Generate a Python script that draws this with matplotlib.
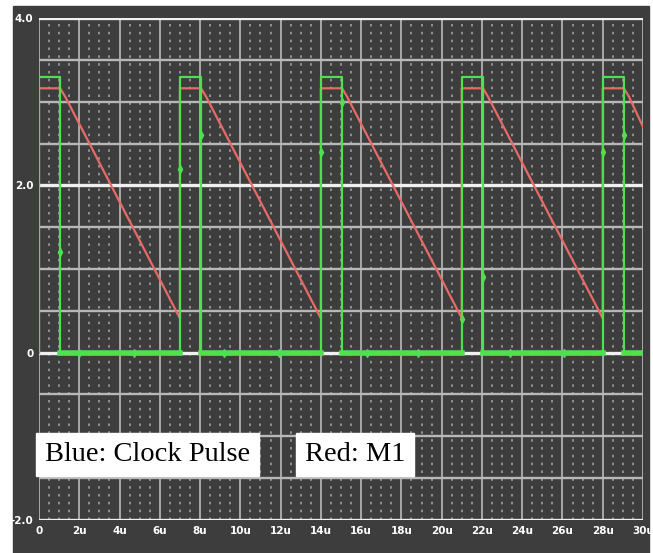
import numpy as np
import matplotlib
matplotlib.use("Agg")
import matplotlib.pyplot as plt
from matplotlib.patches import Rectangle

# --- data (time in us, volts) ---
clock_t = [0, 0, 1.05, 1.05, 7.0, 7.0, 8.05, 8.05, 14.0, 14.0, 15.05, 15.05,
           21.0, 21.0, 22.05, 22.05, 28.0, 28.0, 29.05, 29.05, 30.0]
clock_v = [0, 3.3, 3.3, 0, 0, 3.3, 3.3, 0, 0, 3.3, 3.3, 0,
           0, 3.3, 3.3, 0, 0, 3.3, 3.3, 0, 0]

m1_t = [0, 0, 1.05, 1.3, 7.0, 7.0, 8.05, 8.3, 14.0, 14.0, 15.05, 15.3,
        21.0, 21.0, 22.05, 22.3, 28.0, 28.0, 29.05, 29.3, 30.0]
m1_v = [0, 3.16, 3.16, 3.06, 0.41, 3.16, 3.16, 3.06, 0.41, 3.16, 3.16, 3.06,
        0.41, 3.16, 3.16, 3.06, 0.41, 3.16, 3.16, 3.06, 2.7]

# sample markers visible on the clock trace
mark_t = [1.05, 2.0, 4.7, 7.0, 8.05, 9.2, 11.9, 14.0, 15.05, 16.3, 18.8,
          21.0, 22.05, 23.4, 26.1, 28.0, 29.05]
mark_v = [1.2, 0, 0, 2.2, 2.6, 0, 0, 2.4, 3.0, 0, 0,
          0.4, 0.9, 0, 0, 2.4, 2.6]

yticks = [4.0, 2.0, 0.0, -2.0]
ytick_labels = ["4.0", "2.0", "0", "-2.0"]
xticks = list(range(0, 31, 2))
xtick_labels = ["0"] + [f"{t}u" for t in xticks[1:]]

bg = "#3d3d3d"
green = "#4fe04f"
red = "#e86a66"

fig = plt.figure(figsize=(6.53, 5.53), dpi=100)
fig.patch.set_facecolor("white")
fig.patches.append(Rectangle((13 / 653, 0), 636 / 653, 1 - 6 / 553,
                             transform=fig.transFigure, color=bg, zorder=-5))

ax = fig.add_axes([39 / 653, 1 - 520 / 553, 604 / 653, 502 / 553])
ax.set_facecolor(bg)
ax.set_xlim(0, 30)
ax.set_ylim(-2, 4)
for s in ax.spines.values():
    s.set_visible(False)

# grid: minor dotted verticals, major lines
for x in np.arange(0, 30.01, 0.5):
    if abs(x / 2 - round(x / 2)) > 1e-6:
        ax.axvline(x, color="#a0a0a0", lw=1.2, ls=(0, (1.5, 3.2)), zorder=1)
for x in np.arange(0, 30.01, 2):
    ax.axvline(x, color="#a8a8a8", lw=1.4, zorder=2)
for y in np.arange(-2, 4.01, 0.5):
    bright = y in (-2.0, 0.0, 2.0, 4.0)
    ax.axhline(y, color="#f0f0f0" if bright else "#b8b8b8",
               lw=2.4 if bright else 1.7, zorder=2)

ax.plot(m1_t, m1_v, color=red, lw=1.6, zorder=4)
cv = np.array(clock_v, dtype=float)
ax.plot(clock_t, clock_v, color=green, lw=1.6, zorder=5)
ax.plot(clock_t, np.where(cv == 0, cv, np.nan), color=green, lw=4, zorder=5)
ax.plot(mark_t, mark_v, ls="none", marker="d", ms=4, color=green, zorder=6)

ax.set_xticks(xticks)
ax.set_xticklabels(xtick_labels)
ax.set_yticks(yticks)
ax.set_yticklabels(ytick_labels)
ax.tick_params(length=0, colors="white", labelsize=7.5, pad=4)
for lab in ax.get_xticklabels() + ax.get_yticklabels():
    lab.set_fontweight("bold")

box = dict(facecolor="white", edgecolor="white", boxstyle="square,pad=0.3")
fig.text(45 / 653, 1 - 461 / 553, "Blue: Clock Pulse", family="Liberation Serif",
         fontsize=20.5, color="black", bbox=box)
fig.text(305 / 653, 1 - 461 / 553, "Red: M1", family="Liberation Serif",
         fontsize=20.5, color="black", bbox=box)

fig.savefig("out.png", dpi=100, facecolor=fig.get_facecolor())
